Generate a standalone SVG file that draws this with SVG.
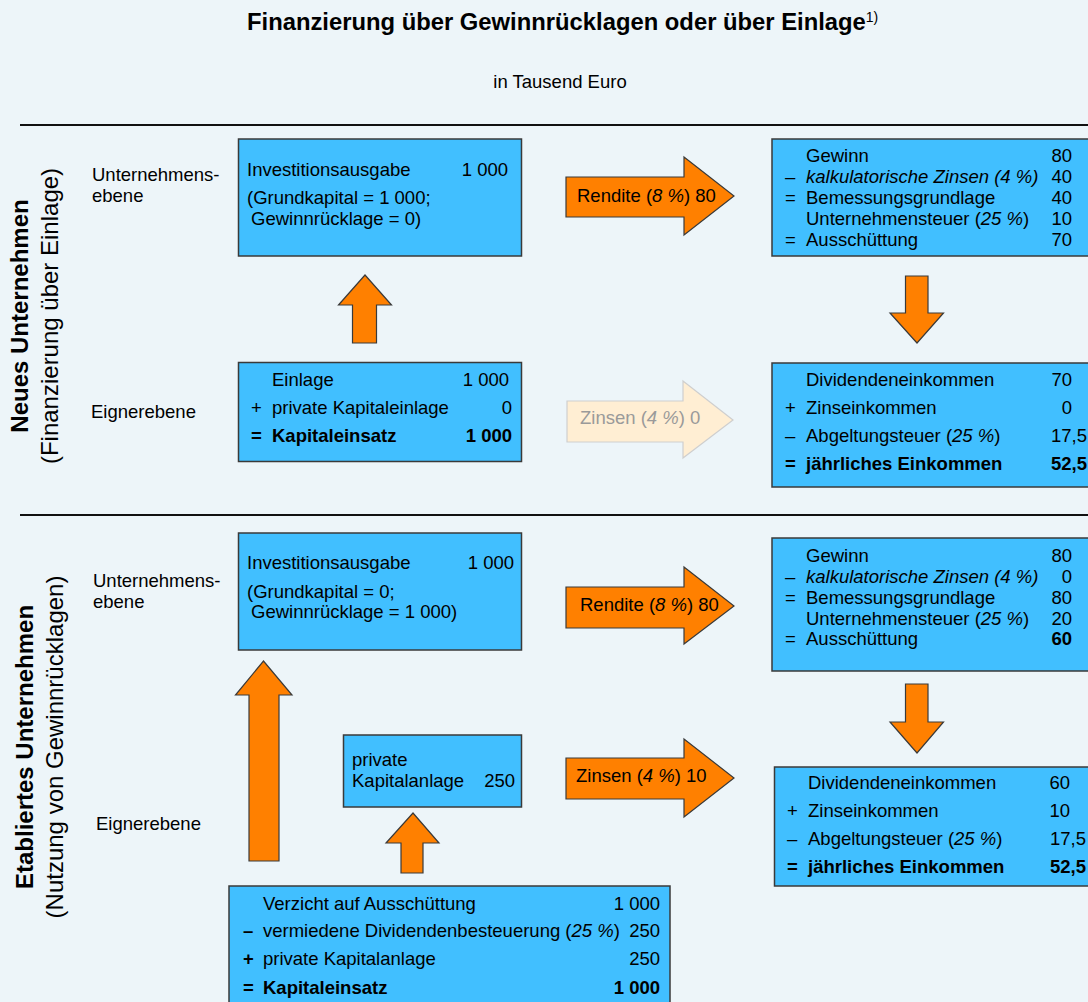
<svg xmlns="http://www.w3.org/2000/svg" width="1088" height="1002" viewBox="0 0 1088 1002">
<style>
text{font-family:"Liberation Sans",Arial,Helvetica,sans-serif;fill:#000;font-size:18.5px}
.b{font-weight:bold}
.i{font-style:italic}
.e{text-anchor:end}
.m{text-anchor:middle}
.box{fill:#41BFFF;stroke:#3a3a3a;stroke-width:1.5}
.arr{fill:#FF8000;stroke:#3a3a3a;stroke-width:1.2;stroke-linejoin:miter}
.fade{fill:#FFEED3;stroke:#CFCFCF;stroke-width:1.2}
.ft{fill:#9A9A9A}
.sep{stroke:#111;stroke-width:2}
.rot{font-size:24px}
</style>
<rect width="1088" height="1002" fill="#EDF5F9"/>
<g id="title">
<text x="247" y="30" class="b" style="font-size:23.8px">Finanzierung über Gewinnrücklagen oder über Einlage<tspan style="font-size:14px;font-weight:normal" dy="-8">1)</tspan></text>
<text x="560" y="88" class="m">in Tausend Euro</text>
</g>
<g id="separators">
<line x1="20" y1="125" x2="1088" y2="125" class="sep"/>
<line x1="20" y1="515" x2="1088" y2="515" class="sep"/>
</g>
<g id="labels">
<text class="rot b m" transform="translate(28,316) rotate(-90)">Neues Unternehmen</text>
<text class="rot m" transform="translate(58,316) rotate(-90)">(Finanzierung über Einlage)</text>
<text x="92" y="181">Unternehmens-</text>
<text x="92" y="202">ebene</text>
<text x="91" y="418">Eignerebene</text>
<text class="rot b m" transform="translate(33,747) rotate(-90)">Etabliertes Unternehmen</text>
<text class="rot m" transform="translate(63,747) rotate(-90)">(Nutzung von Gewinnrücklagen)</text>
<text x="93" y="587">Unternehmens-</text>
<text x="93" y="608">ebene</text>
<text x="96" y="830">Eignerebene</text>
</g>
<g id="connectors">
<polygon class="arr" points="352.5,343 352.5,305 338.5,305 365,275 391.5,305 376.5,305 376.5,343"/>
<polygon class="arr" points="566,177 684,177 684,157 734,196 684,235 684,217 566,217"/>
<text x="577" y="202">Rendite (<tspan class="i">8 %</tspan>) 80</text>
<polygon class="arr" points="905.5,276 928,276 928,313 943.5,313 917,343 890,313 905.5,313"/>
<polygon class="fade" points="567,401 683,401 683,381 733,420 683,458 683,442 567,442"/>
<text x="580" y="424" class="ft">Zinsen (<tspan class="i">4 %</tspan>) 0</text>
<polygon class="arr" points="249,861 249,695 235.5,695 263.5,661 292,695 279,695 279,861"/>
<polygon class="arr" points="401,873 401,843 386,843 413,813 439,843 423,843 423,873"/>
<polygon class="arr" points="566,587 684,587 684,567 734,606 684,644 684,628 566,628"/>
<text x="580" y="611">Rendite (<tspan class="i">8 %</tspan>) 80</text>
<polygon class="arr" points="566,758 684,758 684,739 734,778 684,817 684,799 566,799"/>
<text x="576" y="782">Zinsen (<tspan class="i">4 %</tspan>) 10</text>
<polygon class="arr" points="905.5,684 928,684 928,722 943.5,722 917,753 890,722 905.5,722"/>
</g>
<g id="node-invest-neu">
<rect class="box" x="238.5" y="139" width="283" height="117"/>
<text x="247" y="176">Investitionsausgabe</text>
<text x="508" y="176" class="e">1 000</text>
<text x="247" y="204">(Grundkapital = 1 000;</text>
<text x="251" y="225">Gewinnrücklage = 0)</text>
</g>
<g id="node-einlage">
<rect class="box" x="238.5" y="362.5" width="283" height="99"/>
<text x="272" y="386">Einlage</text>
<text x="509" y="386" class="e">1 000</text>
<text x="251" y="414">+</text>
<text x="272" y="414">private Kapitaleinlage</text>
<text x="512" y="414" class="e">0</text>
<text x="251" y="442" class="b">=</text>
<text x="272" y="442" class="b">Kapitaleinsatz</text>
<text x="512" y="442" class="e b">1 000</text>
</g>
<g id="node-gewinn-neu">
<rect class="box" x="772" y="139" width="320" height="117"/>
<text x="806" y="162">Gewinn</text>
<text x="1072" y="162" class="e">80</text>
<text x="785" y="183">–</text>
<text x="806" y="183" class="i">kalkulatorische Zinsen (4 %)</text>
<text x="1072" y="183" class="e">40</text>
<text x="785" y="204">=</text>
<text x="806" y="204">Bemessungsgrundlage</text>
<text x="1072" y="204" class="e">40</text>
<text x="806" y="225">Unternehmensteuer (<tspan class="i">25 %</tspan>)</text>
<text x="1072" y="225" class="e">10</text>
<text x="785" y="246">=</text>
<text x="806" y="246">Ausschüttung</text>
<text x="1072" y="246" class="e">70</text>
</g>
<g id="node-einkommen-neu">
<rect class="box" x="772" y="363" width="320" height="124"/>
<text x="806" y="386">Dividendeneinkommen</text>
<text x="1072" y="386" class="e">70</text>
<text x="785" y="414">+</text>
<text x="806" y="414">Zinseinkommen</text>
<text x="1072" y="414" class="e">0</text>
<text x="785" y="442">–</text>
<text x="806" y="442">Abgeltungsteuer (<tspan class="i">25 %</tspan>)</text>
<text x="1087" y="442" class="e">17,5</text>
<text x="785" y="470" class="b">=</text>
<text x="806" y="470" class="b">jährliches Einkommen</text>
<text x="1087" y="470" class="e b">52,5</text>
</g>
<g id="node-invest-etab">
<rect class="box" x="238.5" y="533" width="283" height="117"/>
<text x="247" y="569">Investitionsausgabe</text>
<text x="514" y="569" class="e">1 000</text>
<text x="247" y="598">(Grundkapital = 0;</text>
<text x="251" y="618">Gewinnrücklage = 1 000)</text>
</g>
<g id="node-kapitalanlage">
<rect class="box" x="343.5" y="735" width="178" height="72"/>
<text x="352" y="766">private</text>
<text x="352" y="787">Kapitalanlage</text>
<text x="515" y="787" class="e">250</text>
</g>
<g id="node-verzicht">
<rect class="box" x="229" y="886" width="441" height="120"/>
<text x="263" y="910">Verzicht auf Ausschüttung</text>
<text x="660" y="910" class="e">1 000</text>
<text x="243" y="937" class="b">–</text>
<text x="263" y="937">vermiedene Dividendenbesteuerung (<tspan class="i">25 %</tspan>)</text>
<text x="660" y="937" class="e">250</text>
<text x="243" y="965" class="b">+</text>
<text x="263" y="965">private Kapitalanlage</text>
<text x="660" y="965" class="e">250</text>
<text x="243" y="994" class="b">=</text>
<text x="263" y="994" class="b">Kapitaleinsatz</text>
<text x="660" y="994" class="e b">1 000</text>
</g>
<g id="node-gewinn-etab">
<rect class="box" x="772" y="538" width="320" height="133"/>
<text x="806" y="562">Gewinn</text>
<text x="1072" y="562" class="e">80</text>
<text x="785" y="583">–</text>
<text x="806" y="583" class="i">kalkulatorische Zinsen (4 %)</text>
<text x="1072" y="583" class="e">0</text>
<text x="785" y="604">=</text>
<text x="806" y="604">Bemessungsgrundlage</text>
<text x="1072" y="604" class="e">80</text>
<text x="806" y="625">Unternehmensteuer (<tspan class="i">25 %</tspan>)</text>
<text x="1072" y="625" class="e">20</text>
<text x="785" y="645">=</text>
<text x="806" y="645">Ausschüttung</text>
<text x="1072" y="645" class="e b">60</text>
</g>
<g id="node-einkommen-etab">
<rect class="box" x="774.5" y="767" width="320" height="119"/>
<text x="808" y="789">Dividendeneinkommen</text>
<text x="1070" y="789" class="e">60</text>
<text x="787" y="817">+</text>
<text x="808" y="817">Zinseinkommen</text>
<text x="1070" y="817" class="e">10</text>
<text x="787" y="845">–</text>
<text x="808" y="845">Abgeltungsteuer (<tspan class="i">25 %</tspan>)</text>
<text x="1086" y="845" class="e">17,5</text>
<text x="787" y="873" class="b">=</text>
<text x="808" y="873" class="b">jährliches Einkommen</text>
<text x="1086" y="873" class="e b">52,5</text>
</g>
</svg>
